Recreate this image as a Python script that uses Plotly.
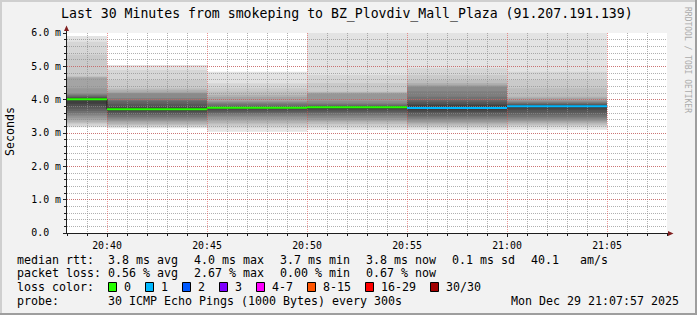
import plotly.graph_objects as go
from datetime import datetime, timedelta

# ---------------- data ----------------
interval_end = ["2025-12-29 20:40:00", "2025-12-29 20:45:00", "2025-12-29 20:50:00",
                "2025-12-29 20:55:00", "2025-12-29 21:00:00", "2025-12-29 21:05:00"]
step_seconds = 300
median_ms = [4.015, 3.715, 3.76, 3.77, 3.75, 3.80]
loss_class = [0, 0, 0, 0, 1, 1]

pings_seg1 = [3.17, 3.21, 3.26, 3.30, 3.34, 3.39, 3.44, 3.50, 3.55, 3.60, 3.66, 3.73, 3.80, 3.88, 4.00,
              4.03, 4.05, 4.06, 4.08, 4.10, 4.13, 4.16, 4.19, 4.34, 4.66, 4.68, 4.70, 5.35, 5.74, 5.91]
pings_seg2 = [3.14, 3.18, 3.21, 3.24, 3.28, 3.32, 3.36, 3.40, 3.44, 3.49, 3.54, 3.58, 3.62, 3.66, 3.70,
              3.73, 3.76, 3.80, 3.88, 3.95, 3.99, 4.05, 4.19, 4.20, 4.24, 4.30, 4.34, 4.59, 4.89, 5.04]
pings_seg3 = [3.04, 3.14, 3.20, 3.26, 3.31, 3.37, 3.42, 3.47, 3.52, 3.56, 3.60, 3.64, 3.68, 3.72, 3.75,
              3.77, 3.78, 3.79, 3.80, 3.82, 3.86, 3.90, 3.93, 3.96, 4.08, 4.14, 4.24, 4.34, 4.49, 4.84]
pings_seg4 = [3.09, 3.16, 3.22, 3.27, 3.32, 3.36, 3.40, 3.45, 3.50, 3.55, 3.60, 3.64, 3.68, 3.72, 3.76,
              3.78, 3.79, 3.80, 3.81, 3.83, 3.86, 3.89, 3.95, 4.18, 4.20, 4.22, 4.24, 4.50, 4.74, 6.40]
pings_seg5 = [3.09, 3.14, 3.19, 3.22, 3.26, 3.30, 3.34, 3.38, 3.43, 3.47, 3.52, 3.58, 3.63, 3.68, 3.72,
              3.78, 3.83, 3.88, 3.94, 3.98, 4.09, 4.25, 4.39, 4.42, 4.45, 4.50, 4.59, 4.74, 4.94, 6.40]
pings_seg6 = [3.10, 3.17, 3.21, 3.25, 3.29, 3.32, 3.36, 3.40, 3.44, 3.49, 3.55, 3.61, 3.68, 3.74, 3.79,
              3.81, 3.83, 3.84, 3.86, 3.88, 3.90, 3.93, 3.95, 3.98, 4.05, 4.09, 4.34, 4.59, 4.84, 6.40]
pings_all = [pings_seg1, pings_seg2, pings_seg3, pings_seg4, pings_seg5, pings_seg6]

x_range = ["2025-12-29 20:38:00", "2025-12-29 21:08:00"]
y_max = 6.0
ytick_vals = [0, 1, 2, 3, 4, 5, 6]
ytick_text = ["0.0\u00a0\u00a0", "1.0 m", "2.0 m", "3.0 m", "4.0 m", "5.0 m", "6.0 m"]

loss_labels = ["0", "1", "2", "3", "4-7", "8-15", "16-29", "30/30"]
loss_colors = ["#26ff00", "#00b8ff", "#0059ff", "#7e00ff", "#ff00ff", "#ff5500", "#ff0000", "#a10000"]

title_text = "Last 30 Minutes from smokeping to BZ_Plovdiv_Mall_Plaza (91.207.191.139)"
rtt_items = ["3.8 ms avg", "4.0 ms max", "3.7 ms min", "3.8 ms now", "0.1 ms sd", "40.1   am/s"]
loss_items = ["0.56 % avg", "2.67 % max", "0.00 % min", "0.67 % now"]
probe_text = "30 ICMP Echo Pings (1000 Bytes) every 300s"
date_text = "Mon Dec 29 21:07:57 2025"
watermark = "RRDTOOL / TOBI OETIKER"

# ---------------- layout helpers ----------------
W_IMG, H_IMG = 697, 315
L, T, PW, PH = 67, 33, 600, 200
MONO = "DejaVu Sans Mono"
CH = 7.0  # legend char width


def px(x):
    return (x - L) / PW


def py(y):
    return (T + PH - y) / PH


def nb(s):
    return s.replace(" ", "\u00a0")


fmt = "%Y-%m-%d %H:%M:%S"
ends = [datetime.strptime(s, fmt) for s in interval_end]
starts = [e - timedelta(seconds=step_seconds) for e in ends]

shapes = []
# smoke (below gridlines)
n = len(pings_seg1)
half = n // 2
for s, e, p in zip(starts, ends, pings_all):
    for i in range(half):
        lo, hi = p[i], p[n - 1 - i]
        g = int(190 / half * (half - (i + 1))) + 50
        shapes.append(dict(type="rect", xref="x", yref="y", x0=s, x1=e, y0=lo, y1=min(hi, y_max),
                           fillcolor="rgb(%d,%d,%d)" % (g, g, g), line=dict(width=0), layer="below"))

fig = go.Figure()

# dark median step line
fig.add_trace(go.Scatter(x=starts + [ends[-1]], y=median_ms + [median_ms[-1]], mode="lines",
                         line=dict(color="#202020", width=1, shape="hv"), hoverinfo="skip",
                         showlegend=False))
# loss-coloured median segments
for ci, col in enumerate(loss_colors):
    xs, ys = [], []
    for s, e, m, lc in zip(starts, ends, median_ms, loss_class):
        if lc == ci:
            xs += [s, e, None]
            ys += [m, m, None]
    if xs:
        fig.add_trace(go.Scatter(x=xs, y=ys, mode="lines", line=dict(color=col, width=2),
                                 hoverinfo="skip", showlegend=False))

AX = "#1f1f1f"
ARROW = "#801f1f"
# axis extensions and arrows
shapes.append(dict(type="line", xref="paper", yref="paper", x0=px(66.5), x1=px(66.5), y0=py(233), y1=py(30),
                   line=dict(color=AX, width=1)))
shapes.append(dict(type="line", xref="paper", yref="paper", x0=px(67), x1=px(669), y0=py(233.5), y1=py(233.5),
                   line=dict(color=AX, width=1)))
shapes.append(dict(type="path", xref="paper", yref="paper",
                   path="M %f,%f L %f,%f L %f,%f Z" % (px(64), py(31), px(69), py(31), px(66.5), py(25.5)),
                   fillcolor=ARROW, line=dict(width=0)))
shapes.append(dict(type="path", xref="paper", yref="paper",
                   path="M %f,%f L %f,%f L %f,%f Z" % (px(668), py(231), px(668), py(236), px(673.5), py(233.5)),
                   fillcolor=ARROW, line=dict(width=0)))
# frame shading
shapes.append(dict(type="rect", xref="paper", yref="paper", x0=px(0), x1=px(W_IMG), y0=py(0), y1=py(2),
                   fillcolor="#cfcfcf", line=dict(width=0)))
shapes.append(dict(type="rect", xref="paper", yref="paper", x0=px(0), x1=px(2), y0=py(0), y1=py(H_IMG),
                   fillcolor="#cfcfcf", line=dict(width=0)))
shapes.append(dict(type="rect", xref="paper", yref="paper", x0=px(0), x1=px(W_IMG), y0=py(H_IMG - 2), y1=py(H_IMG),
                   fillcolor="#9e9e9e", line=dict(width=0)))
shapes.append(dict(type="rect", xref="paper", yref="paper", x0=px(W_IMG - 2), x1=px(W_IMG), y0=py(0), y1=py(H_IMG),
                   fillcolor="#9e9e9e", line=dict(width=0)))

annotations = []


def text(x, y, s, size=11.63, anchor="left", color="black", angle=0):
    annotations.append(dict(x=px(x), y=py(y), xref="paper", yref="paper", text=nb(s), showarrow=False,
                            xanchor=anchor, yanchor="middle", borderpad=0, textangle=angle,
                            font=dict(family=MONO, size=size, color=color)))


text(347, 14, title_text, size=13.2, anchor="center")
text(688, 60, watermark, size=8, anchor="center", color="#ababab", angle=90)
text(10, 132, "Seconds", size=11.63, anchor="center", angle=-90)

row_y = [259.5, 273.3, 287, 301]
X0 = 16
XV = 107
text(X0, row_y[0], "median rtt:")
x = XV
for s in rtt_items:
    text(x, row_y[0], s)
    x += len(s) * CH + 16
text(X0, row_y[1], "packet loss:")
x = XV
for s in loss_items:
    text(x, row_y[1], s)
    x += len(s) * CH + 16
text(X0, row_y[2], "loss color:")
x = 108
for lab, col in zip(loss_labels, loss_colors):
    shapes.append(dict(type="rect", xref="paper", yref="paper", x0=px(x + 0.5), x1=px(x + 8.5),
                       y0=py(282.5), y1=py(291.5), fillcolor=col, line=dict(color="black", width=1)))
    text(x + 15, row_y[2], lab)
    x += 15 + len(lab) * CH + 15
text(X0, row_y[3], "probe:")
text(XV, row_y[3], probe_text)
text(680, row_y[3], date_text, anchor="right")

MGRID = "rgba(222,79,79,0.6)"
GRID = "rgba(143,143,143,0.7)"

fig.update_layout(
    width=W_IMG, height=H_IMG,
    margin=dict(l=L, r=W_IMG - L - PW, t=T, b=H_IMG - T - PH, pad=0),
    paper_bgcolor="#f2f2f2", plot_bgcolor="white",
    showlegend=False,
    shapes=shapes, annotations=annotations,
    xaxis=dict(type="date", range=x_range, tickformat="%H:%M", dtick=300000,
               tick0="2025-12-29 20:00:00", ticks="outside", ticklen=3, tickcolor=AX,
               showline=True, linecolor=AX, linewidth=1,
               showgrid=True, gridcolor=MGRID, griddash="1px,1px", gridwidth=1, zeroline=False,
               tickfont=dict(family=MONO, size=9.9, color="black"),
               minor=dict(dtick=60000, tick0="2025-12-29 20:00:00", ticks="outside", ticklen=2,
                          tickcolor=AX, showgrid=True, gridcolor=GRID, griddash="1px,1px", gridwidth=1),
               fixedrange=True),
    yaxis=dict(range=[0, y_max], tickmode="array", tickvals=ytick_vals, ticktext=ytick_text,
               ticks="outside", ticklen=3, tickcolor=AX,
               showline=True, linecolor=AX, linewidth=1,
               showgrid=True, gridcolor=MGRID, griddash="1px,1px", gridwidth=1, zeroline=False,
               tickfont=dict(family=MONO, size=9.9, color="black"),
               minor=dict(dtick=0.2, ticks="outside", ticklen=2, tickcolor=AX, showgrid=True,
                          gridcolor=GRID, griddash="1px,1px", gridwidth=1),
               fixedrange=True),
)

fig.write_html("out.html")
